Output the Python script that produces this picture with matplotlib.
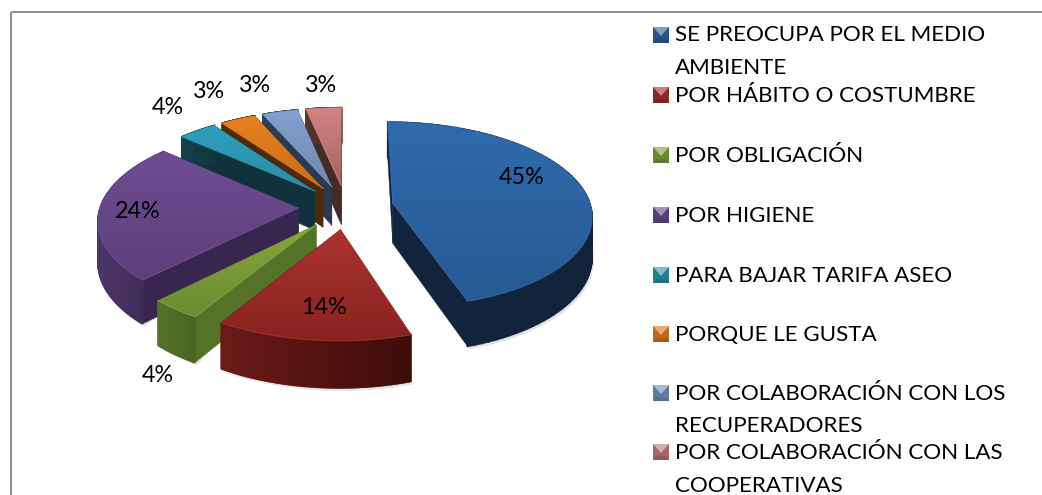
"""
    plot.py

    Exploded 3D pie (drawn by hand, matplotlib has no 3D pie) with legend on the right.
"""

import matplotlib

matplotlib.use("Agg")

import matplotlib.pyplot as plt
import numpy as np
from matplotlib.colors import LinearSegmentedColormap
from matplotlib.patches import Polygon

categories = [
    "SE PREOCUPA POR EL MEDIO\nAMBIENTE",
    "POR HÁBITO O COSTUMBRE",
    "POR OBLIGACIÓN",
    "POR HIGIENE",
    "PARA BAJAR TARIFA ASEO",
    "PORQUE LE GUSTA",
    "POR COLABORACIÓN CON LOS\nRECUPERADORES",
    "POR COLABORACIÓN CON LAS\nCOOPERATIVAS",
]
# labels show these rounded
percent = [45.0, 13.7, 3.6, 24.2, 3.6, 3.3, 3.3, 3.3]

# top face (upper, lower), outer wall (left, right), radial wall
top_colors = [
    ("#2f6bad", "#285a94"), ("#ad3330", "#87231f"), ("#86a63e", "#6c8a30"),
    ("#6f4d94", "#5c3f7a"), ("#2f9fbc", "#2a8ca6"), ("#e8811f", "#c96c1e"),
    ("#83a0d0", "#6f88ad"), ("#d38383", "#a06464"),
]
wall_colors = [
    ("#14263f", "#11223a"), ("#6b1a17", "#3d0c0a"), ("#56722a", "#4b6423"),
    ("#4c3668", "#3a2750"), ("#14404e", "#12363f"), ("#552e0c", "#4c280a"),
    ("#2e4058", "#2b3a50"), ("#57342f", "#452a2a"),
]
side_colors = ["#12233c", "#4a100e", "#557226", "#38264e", "#10323d", "#4c2a0b", "#2b3a50", "#452a2a"]
marker_colors = ["#2f5f9b", "#a02e2b", "#7a9a38", "#64468a", "#2b8fa8", "#d9761c", "#6f8cba", "#b87474"]

legend_line_y = [33, 94, 154, 214, 274, 333, 392, 451]
legend_marker_y = [35, 95, 155, 215, 275, 334, 393, 452]
label_xy = [(522, 177), (324, 308), (158, 375), (138, 211), (168, 108), (209, 91), (255, 85), (321, 85)]

CX, CY = 346, 207
RX, RY = 198, 92
PERSP = 0.12
EXPLODE = 0.24
DEPTH = 40
FONT = "Lato"
FS = 16.1
FS_LABEL = 16.8
LINE_STEP = 32.5


def project(u, v):
    s = 1 / (1 + PERSP * v)
    return CX + RX * u * s, CY - RY * v * s, DEPTH * s


def slice_outline(a0, a1):
    mid = (a0 + a1) / 2
    ou, ov = EXPLODE * np.sin(mid), EXPLODE * np.cos(mid)
    angles = np.linspace(a0, a1, 80)
    arc = [project(ou + np.sin(a), ov + np.cos(a)) for a in angles]
    return np.array(project(ou, ov)), np.array(arc)


def draw_slice(ax, a0, a1, i, z):
    apex, arc = slice_outline(a0, a1)
    top_xy = np.vstack([apex[:2], arc[:, :2]])

    # soft shadow under the walls
    low = np.column_stack([arc[:, 0] + 2, arc[:, 1] + arc[:, 2] + 3])
    ax.add_patch(Polygon(np.vstack([top_xy, low[::-1]]), fc="#b0b0b0", ec="none", alpha=0.35, zorder=z))

    # radial walls
    for end in (arc[0], arc[-1]):
        quad = [apex[:2], end[:2], (end[0], end[1] + end[2]), (apex[0], apex[1] + apex[2])]
        ax.add_patch(Polygon(quad, fc=side_colors[i], ec=side_colors[i], lw=0.3, zorder=z + 0.1))

    # outer wall, in strips so the shade can change along it
    cmap = LinearSegmentedColormap.from_list("w", wall_colors[i])
    for k in range(len(arc) - 1):
        p, q = arc[k], arc[k + 1]
        quad = [p[:2], q[:2], (q[0], q[1] + q[2]), (p[0], p[1] + p[2])]
        frac = np.clip((p[0] - arc[:, 0].min()) / max(np.ptp(arc[:, 0]), 1), 0, 1)
        c = cmap(frac)
        ax.add_patch(Polygon(quad, fc=c, ec=c, lw=1.2, zorder=z + 0.2))

    # top face with a vertical gradient
    grad = LinearSegmentedColormap.from_list("t", top_colors[i])
    x0, x1 = top_xy[:, 0].min(), top_xy[:, 0].max()
    y0, y1 = top_xy[:, 1].min(), top_xy[:, 1].max()
    im = ax.imshow(
        np.linspace(0, 1, 64).reshape(-1, 1),
        cmap=grad,
        extent=(x0, x1, y1, y0),
        aspect="auto",
        zorder=z + 0.3,
    )
    face = Polygon(top_xy, fc="none", ec="none", transform=ax.transData)
    ax.add_patch(face)
    im.set_clip_path(face)
    ax.plot(top_xy[:, 0], top_xy[:, 1], color=top_colors[i][0], lw=0.8, alpha=0.8, zorder=z + 0.4)


def draw_marker(ax, y, color):
    x0, x1 = 653, 669
    y0, y1 = y - 8, y + 8
    m = ((x0 + x1) / 2, y)
    rgb = np.array(matplotlib.colors.to_rgb(color))
    light = rgb + (1 - rgb) * 0.4
    dark = rgb * 0.78
    ax.fill([x0, x1, x1, x0], [y0, y0, y1, y1], color=rgb * 0.88, lw=0, zorder=5)
    ax.fill([x0, x1, m[0]], [y0, y0, m[1] + 1], color=light, lw=0, zorder=6)
    ax.fill([x0, x1, x1 - 3, x0 + 3], [y1, y1, y1 - 4, y1 - 4], color=dark, lw=0, zorder=6)


if __name__ == "__main__":

    fig = plt.figure(figsize=(10.42, 4.95), dpi=100)
    ax = fig.add_axes([0, 0, 1, 1])
    ax.axis("off")

    # chart frame, only top and left show in the crop
    ax.plot([11, 1042], [12, 12], color="#8c8c8c", lw=1.4, solid_capstyle="butt")
    ax.plot([11, 11], [12, 495], color="#8c8c8c", lw=1.4, solid_capstyle="butt")

    edges = np.radians(np.concatenate([[0], np.cumsum(percent)]) * 3.6)
    mids = (edges[:-1] + edges[1:]) / 2
    order = np.argsort(-np.cos(mids))

    for rank, i in enumerate(order):
        draw_slice(ax, edges[i], edges[i + 1], i, 1 + rank)

    ax.set_xlim(0, 1042)
    ax.set_ylim(495, 0)

    for (x, y), v in zip(label_xy, percent):
        ax.text(x, y, f"{round(v)}%", ha="center", va="center", fontsize=FS_LABEL, family=FONT, color="black", zorder=20)

    for name, ty, my, c in zip(categories, legend_line_y, legend_marker_y, marker_colors):
        draw_marker(ax, my, c)
        for k, line in enumerate(name.split("\n")):
            ax.text(675, ty + k * LINE_STEP, line, ha="left", va="center_baseline",
                    fontsize=FS, family=FONT, color="black", zorder=20)

    fig.savefig("out.png", dpi=100)
